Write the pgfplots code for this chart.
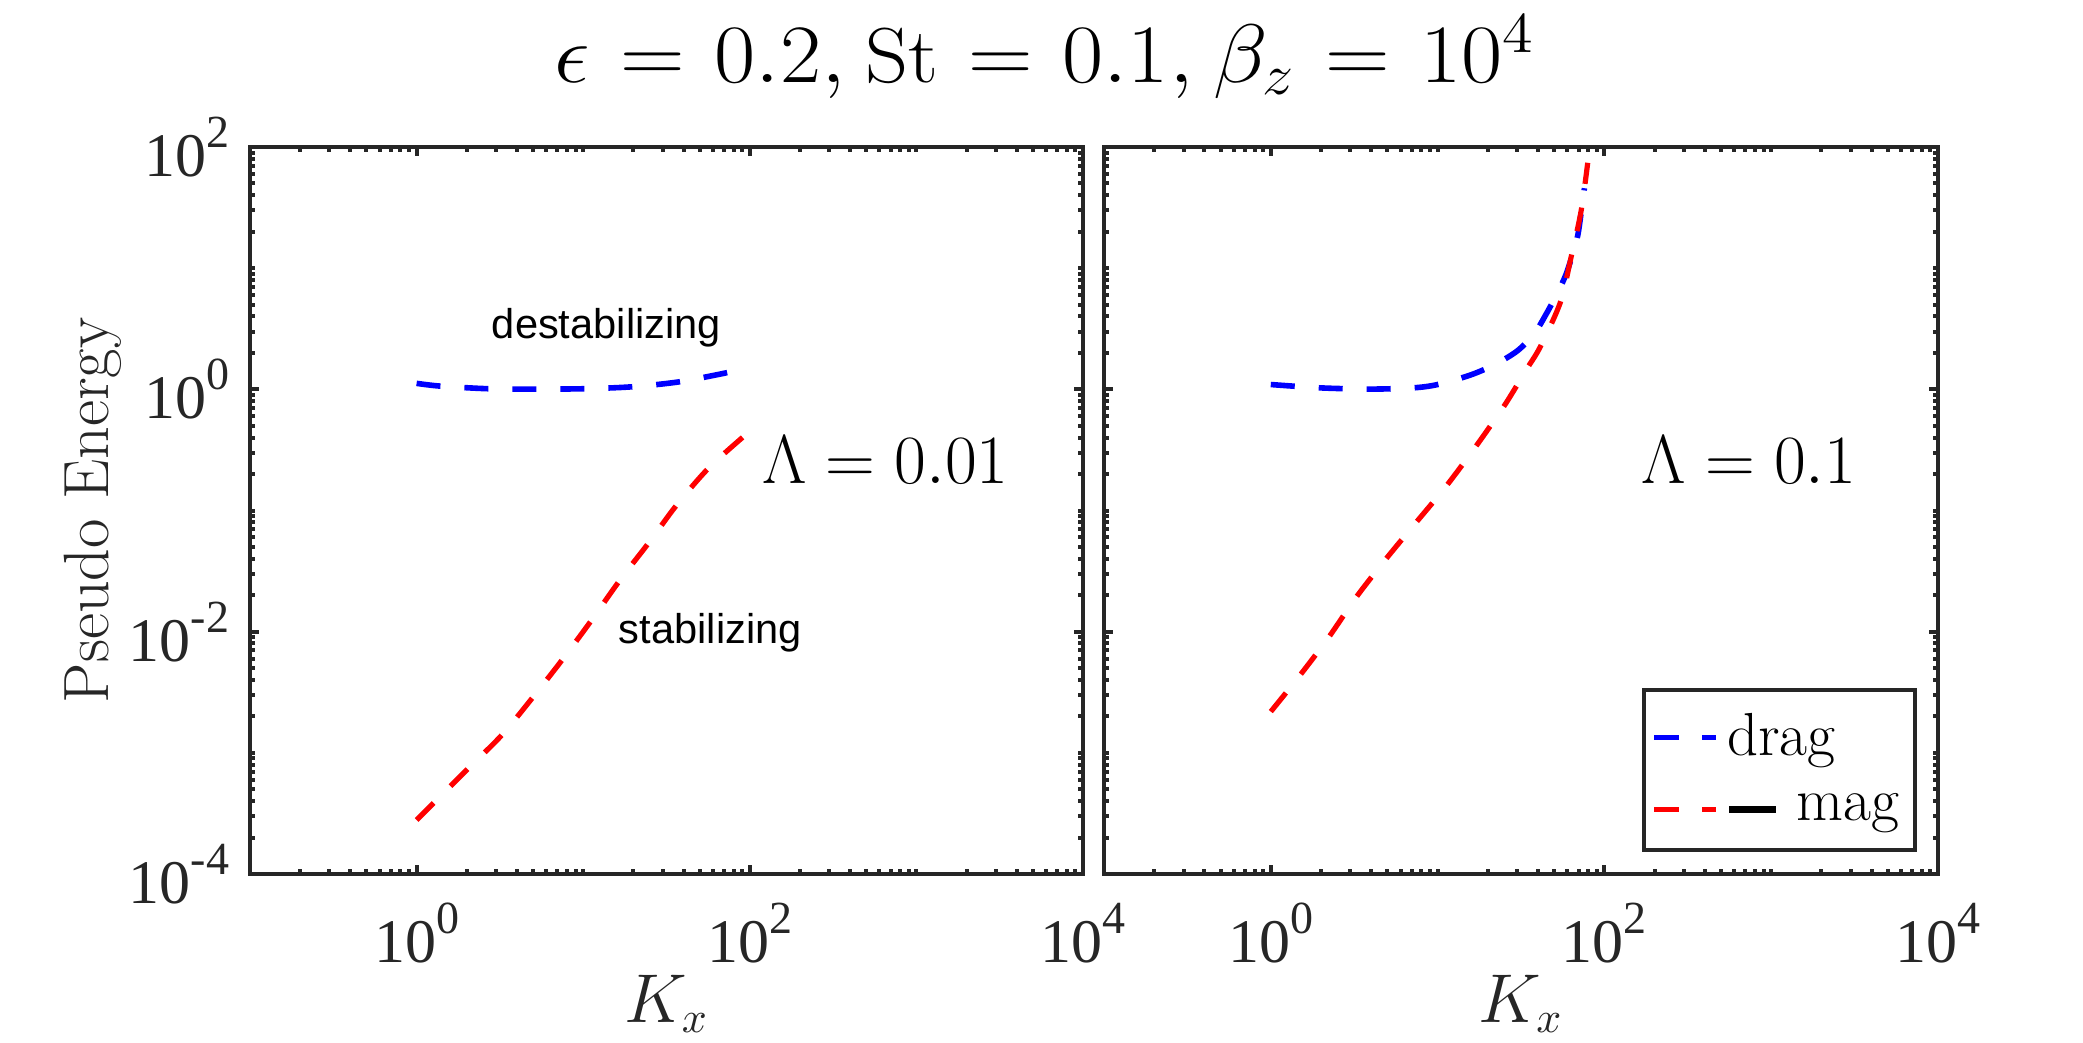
\documentclass[border=0pt]{standalone}
\usepackage{fontspec}
\usepackage{graphicx}
\usepackage{pgfplots}
\pgfplotsset{compat=1.18}
\newfontfamily\timesf{Liberation Serif}
\newfontfamily\arialf{Liberation Sans}
\definecolor{axcol}{HTML}{262626}
\newcommand{\tl}[1]{{\timesf\fontsize{15.5}{15.5}\selectfont 10\raisebox{7.25pt}{\fontsize{11.5}{11.5}\selectfont #1}}}

\begin{document}
\begin{tikzpicture}
\useasboundingbox (0,0) rectangle (520.75pt,260.5pt);
\node[anchor=base, inner sep=0pt, font=\fontsize{19.5}{19.5}\selectfont] at (261.25pt,239.9pt)
  {\scalebox{1.08}[1]{\thickmuskip=6mu \thinmuskip=4mu $\epsilon = 0.2, \mathrm{St} = 0.1, \beta_z = 10^4$}};
\node[rotate=90, anchor=base, inner sep=0pt, text=axcol, font=\fontsize{16}{16}\selectfont] at (27pt,132.9pt) {Pseudo Energy};

\begin{axis}[
    xmode=log, ymode=log, scale only axis, anchor=south west, at={(62.5pt,42pt)},
    width=208.25pt, height=181.75pt,
    xmin=0.1, xmax=10000, ymin=1e-4, ymax=100,
    xtick={1,100,10000},
    xticklabels={\tl{0},\tl{2},\tl{4}},
    ytick={1e-4,1e-2,1,100},
    yticklabels={\tl{-4},\tl{-2},\tl{0},\tl{2}},
    minor xtick={0.2,0.3,0.4,0.5,0.6,0.7,0.8,0.9,2,3,4,5,6,7,8,9,10,20,30,40,50,60,70,80,90,200,300,400,500,600,700,800,900,1000,2000,3000,4000,5000,6000,7000,8000,9000},
    minor ytick={2e-4,3e-4,4e-4,5e-4,6e-4,7e-4,8e-4,9e-4,1e-3,2e-3,3e-3,4e-3,5e-3,6e-3,7e-3,8e-3,9e-3,2e-2,3e-2,4e-2,5e-2,6e-2,7e-2,8e-2,9e-2,0.1,0.2,0.3,0.4,0.5,0.6,0.7,0.8,0.9,2,3,4,5,6,7,8,9,10,20,30,40,50,60,70,80,90},
    tick align=inside,
    major tick length=2.25pt, minor tick length=1.2pt,
    tick style={axcol, line width=1pt},
    axis line style={axcol, line width=1pt},
    xticklabel style={anchor=north, inner sep=0pt, yshift=-7pt, text=axcol},
    yticklabel style={anchor=east, inner sep=0pt, xshift=-5pt, text=axcol},
    xlabel={$K_x$},
    xlabel style={at={(rel axis cs:0.5,0)}, anchor=base, yshift=-37pt, inner sep=0pt, font=\fontsize{16}{16}\selectfont, text=axcol},
  ]
\addplot[blue, line width=1.4pt, dash pattern=on 6pt off 6pt, line join=round, smooth] coordinates {(1,1.121) (1.38,1.064) (2.69,1.012) (5.26,1.005) (10.26,1.012) (19.7,1.050) (38.1,1.156) (74.3,1.380)};
\addplot[red, line width=1.3pt, dash pattern=on 6pt off 6pt, line join=round, smooth] coordinates {(1,2.79e-4) (1.259,3.83e-4) (2.042,7.45e-4) (3.243,1.40e-3) (5.012,2.90e-3) (7.603,6.03e-3) (11.25,1.25e-2) (16.63,2.67e-2) (24.6,5.36e-2) (36.4,0.111) (56.4,0.223) (91.4,0.406)};
\node[anchor=base west, inner sep=0pt, font=\arialf\fontsize{10.4}{10.4}\selectfont] at (axis cs:2.8,2.65) {destabilizing};
\node[anchor=base west, inner sep=0pt, font=\arialf\fontsize{10.4}{10.4}\selectfont] at (axis cs:16.2,0.00806) {stabilizing};
\node[anchor=base west, inner sep=0pt, font=\fontsize{18.5}{18.5}\selectfont] at (axis cs:117.6,0.1686) {$\Lambda = 0.01$};
\end{axis}

\begin{axis}[
    xmode=log, ymode=log, scale only axis, anchor=south west, at={(276pt,42pt)},
    width=208.5pt, height=181.75pt,
    xmin=0.1, xmax=10000, ymin=1e-4, ymax=100,
    xtick={1,100,10000},
    xticklabels={\tl{0},\tl{2},\tl{4}},
    ytick={1e-4,1e-2,1,100},
    yticklabels={},
    minor xtick={0.2,0.3,0.4,0.5,0.6,0.7,0.8,0.9,2,3,4,5,6,7,8,9,10,20,30,40,50,60,70,80,90,200,300,400,500,600,700,800,900,1000,2000,3000,4000,5000,6000,7000,8000,9000},
    minor ytick={2e-4,3e-4,4e-4,5e-4,6e-4,7e-4,8e-4,9e-4,1e-3,2e-3,3e-3,4e-3,5e-3,6e-3,7e-3,8e-3,9e-3,2e-2,3e-2,4e-2,5e-2,6e-2,7e-2,8e-2,9e-2,0.1,0.2,0.3,0.4,0.5,0.6,0.7,0.8,0.9,2,3,4,5,6,7,8,9,10,20,30,40,50,60,70,80,90},
    tick align=inside,
    major tick length=2.25pt, minor tick length=1.2pt,
    tick style={axcol, line width=1pt},
    axis line style={axcol, line width=1pt},
    xticklabel style={anchor=north, inner sep=0pt, yshift=-7pt, text=axcol},
    xlabel={$K_x$},
    xlabel style={at={(rel axis cs:0.5,0)}, anchor=base, yshift=-37pt, inner sep=0pt, font=\fontsize{16}{16}\selectfont, text=axcol},
    legend style={at={(rel axis cs:1,0)}, anchor=south east, xshift=-5.25pt, yshift=5.5pt,
      draw=axcol, line width=1pt, fill=white, font=\fontsize{15.2}{15.2}\selectfont,
      inner xsep=2pt, inner ysep=4pt, row sep=3.8pt},
    legend cell align=left,
  ]
\addplot[blue, line width=1.4pt, dash pattern=on 6pt off 6pt, line join=round, smooth, legend image code/.code={\draw[blue, line width=1.4pt, dash pattern=on 6.25pt off 5.75pt] (0pt,0pt) -- (15.5pt,0pt);}] coordinates {(1,1.096) (2,1.028) (3.98,1.005) (7.08,1.028) (10,1.096) (15.85,1.318) (22.4,1.622) (30.2,2.089) (38.0,2.884) (44.7,4.169) (52.5,6.31) (58.9,8.91) (64.6,13.18) (69.2,18.62) (72.4,28.2) (75.9,45.7)};
\addlegendentry{drag}
\addplot[red, line width=1.3pt, dash pattern=on 6pt off 6pt, line join=round, smooth, legend image code/.code={\draw[red, line width=1.3pt, dash pattern=on 6.25pt off 5.75pt] (0pt,0pt) -- (15.5pt,0pt); \draw[black, line width=1.6pt, solid, overlay] (18.75pt,0pt) -- (30.5pt,0pt);}] coordinates {(1,2.19e-3) (1.496,4.37e-3) (2.213,8.91e-3) (3.273,1.95e-2) (4.898,3.98e-2) (7.413,7.94e-2) (11.22,0.158) (16.98,0.339) (24.55,0.700) (29.51,1.047) (34.67,1.514) (41.21,2.239) (54.33,5.19) (63.10,12.3) (72.44,29.5) (79.43,74.1)};
\addlegendentry{\hspace{17.25pt}mag}
\node[anchor=base west, inner sep=0pt, font=\fontsize{18.5}{18.5}\selectfont] at (axis cs:165.7,0.1686) {$\Lambda = 0.1$};
\end{axis}
\end{tikzpicture}
\end{document}
